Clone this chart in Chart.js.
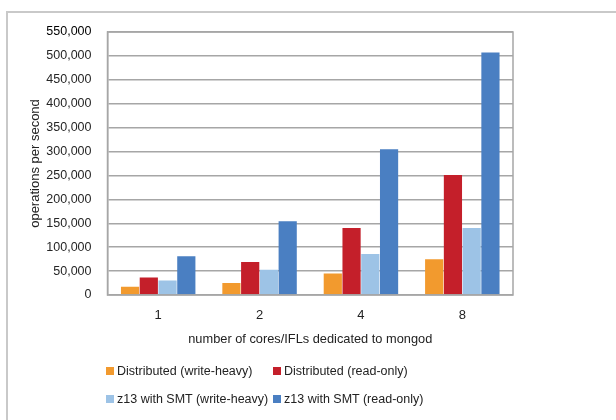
<!DOCTYPE html>
<html>
<head>
<meta charset="utf-8">
<script src="https://cdn.jsdelivr.net/npm/chart.js@4"></script>
<style>
    html, body { margin: 0; padding: 0; background: #fff; }
    #wrap { position: relative; width: 616px; height: 420px; overflow: hidden; }
    #frame { position: absolute; left: 6px; top: 11px; width: 640px; height: 440px; border: 2px solid #c9c9c9; }
    canvas { position: absolute; left: 0; top: 0; }
    #legend { position: absolute; left: 106px; top: 357px; font: 12.5px "Liberation Sans", Arial, sans-serif; color: #222; white-space: nowrap; }
    #legend .row { display: flex; height: 28px; align-items: center; }
    #legend .item { display: flex; align-items: center; }
    #legend .item:first-child { min-width: 167px; padding-right: 4px; box-sizing: border-box; }
    #legend .box { width: 8px; height: 8px; margin-right: 3px; }
</style>
</head>
<body>
<div id="wrap">
    <div id="frame"></div>
    <canvas id="chart" width="616" height="420"></canvas>
    <div id="legend"></div>
</div>
<script>
const categories = ['1', '2', '4', '8'];
const seriesNames = [
    'Distributed (write-heavy)',
    'Distributed (read-only)',
    'z13 with SMT (write-heavy)',
    'z13 with SMT (read-only)',
];
const distWrite = [17000, 25000, 45000, 75000];
const distRead = [36500, 69000, 140000, 251000];
const smtWrite = [30500, 53000, 86000, 140000];
const smtRead = [81000, 154000, 305000, 507000];
const seriesColors = ['#f29a2e', '#c41f2a', '#9dc3e6', '#4a7fc2'];
const yTicks = [0, 50000, 100000, 150000, 200000, 250000, 300000, 350000, 400000, 450000, 500000, 550000];

const fontFamily = '"Liberation Sans", Arial, sans-serif';

// frame around the plot area (left/top/right/bottom)
const plotFrame = {
    id: 'plotFrame',
    afterDraw(chart) {
        const { ctx, chartArea } = chart;
        ctx.save();
        ctx.strokeStyle = '#a6a6a6';
        ctx.lineWidth = 1.5;
        ctx.strokeRect(chartArea.left, chartArea.top, chartArea.right - chartArea.left, chartArea.bottom - chartArea.top);
        ctx.restore();
    },
};

const seriesData = [distWrite, distRead, smtWrite, smtRead];

const chart = new Chart(document.getElementById('chart'), {
    type: 'bar',
    data: {
        labels: categories,
        datasets: seriesNames.map((name, i) => ({
            label: name,
            data: seriesData[i],
            backgroundColor: seriesColors[i],
            categoryPercentage: 0.74,
            barPercentage: 0.97,
        })),
    },
    options: {
        responsive: false,
        animation: false,
        layout: {
            padding: { top: 32, right: 103, bottom: 65, left: 0 },
        },
        plugins: {
            legend: { display: false },
            tooltip: { enabled: false },
        },
        scales: {
            x: {
                grid: { display: false, drawTicks: false },
                border: { display: false },
                ticks: {
                    color: '#222',
                    padding: 13,
                    font: { family: fontFamily, size: 13 },
                },
                title: {
                    display: true,
                    text: 'number of cores/IFLs dedicated to mongod',
                    color: '#222',
                    padding: { top: 0, bottom: 7.5 },
                    font: { family: fontFamily, size: 12.8 },
                },
                afterFit(scale) {
                    scale.height = 60;
                },
            },
            y: {
                min: 0,
                max: 550000,
                afterBuildTicks(scale) {
                    scale.ticks = yTicks.map((v) => ({ value: v }));
                },
                grid: { color: '#a6a6a6', lineWidth: 1.5, drawTicks: false },
                border: { display: true, color: '#a6a6a6', width: 1.5 },
                ticks: {
                    padding: 16,
                    color: (ctx) => (ctx.tick && ctx.tick.value === 550000 ? '#000' : '#262626'),
                    font: { family: fontFamily, size: 12.5 },
                    callback: (v) => Number(v).toLocaleString('en-US'),
                },
                title: {
                    display: true,
                    text: 'operations per second',
                    color: '#222',
                    padding: { top: 28, bottom: 0 },
                    font: { family: fontFamily, size: 13 },
                },
                afterFit(scale) {
                    scale.width = 107.5;
                },
            },
        },
    },
    plugins: [plotFrame],
});

// legend: two rows of two items
const legend = document.getElementById('legend');
for (let r = 0; r < 2; r++) {
    const row = document.createElement('div');
    row.className = 'row';
    for (let c = 0; c < 2; c++) {
        const i = r * 2 + c;
        const item = document.createElement('div');
        item.className = 'item';
        const box = document.createElement('span');
        box.className = 'box';
        box.style.background = seriesColors[i];
        const text = document.createElement('span');
        text.textContent = seriesNames[i];
        item.appendChild(box);
        item.appendChild(text);
        row.appendChild(item);
    }
    legend.appendChild(row);
}
</script>
</body>
</html>
